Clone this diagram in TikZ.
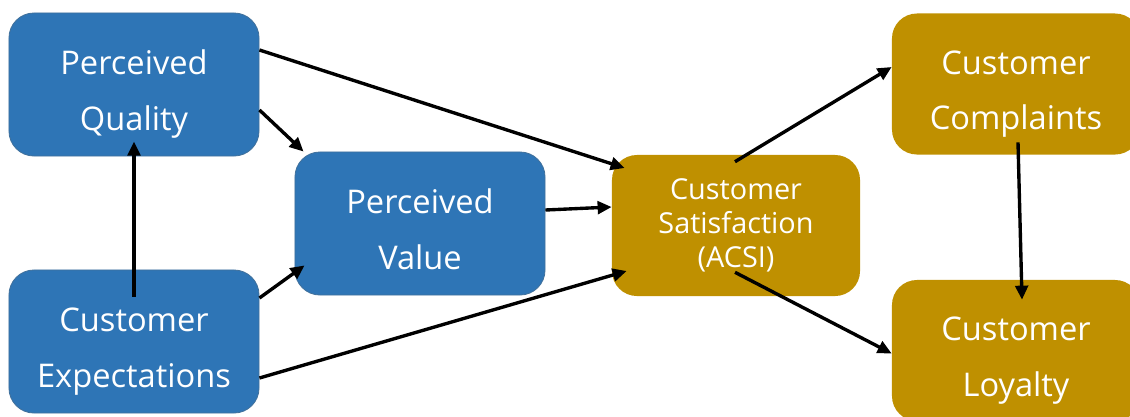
\documentclass[tikz,border=0pt]{standalone}
\usepackage{fontspec}
\setmainfont{Open Sans}
\usepackage{tikz}
\usetikzlibrary{arrows.meta,calc,positioning}
\definecolor{acsiblue}{HTML}{2E75B6}
\definecolor{acsiedge}{HTML}{41719C}
\definecolor{acsigold}{HTML}{BF9000}

\begin{document}
\begin{tikzpicture}[x=0.025cm, y=-0.025cm,
    driver/.style={rounded corners=25*0.025cm, fill=acsiblue, draw=acsiedge, line width=0.6pt,
      minimum width=6.25cm, minimum height=3.575cm, inner sep=0pt, align=center, text=white,
      font=\fontsize{23.2}{39.5}\selectfont, text height=65pt, text depth=-6pt},
    outcome/.style={rounded corners=25*0.025cm, fill=acsigold,
      minimum width=6.2cm, minimum height=3.525cm, inner sep=0pt, align=center, text=white,
      font=\fontsize{23.2}{39.5}\selectfont, text height=65pt, text depth=-6pt},
    link/.style={line width=2.4pt, -{Triangle[length=10pt,width=9pt]}}]
  \useasboundingbox (0,0) rectangle (1130,416);
  % drivers
  \node[driver] (pq) at (134,84.5) {Perceived\\Quality};
  \node[driver] (ce) at (134,341.5) {Customer\\Expectations};
  \node[driver] (pv) at (420,223.5) {Perceived\\Value};
  % index and outcomes
  \node[outcome, font=\fontsize{20.5}{24}\selectfont, text height=, text depth=] (cs) at (736,225.5) {Customer\\Satisfaction\\(ACSI)};
  \node[outcome] (cc) at (1016,84) {Customer\\Complaints};
  \node[outcome] (cl) at (1016,350.5) {Customer\\Loyalty};
  % links
  \draw[link] ($(ce.north)+(0,27)$) -- ($(pq.south)+(0,-15)$);
  \draw[link] ($(pq.east)+(0,-34.5)$) -- ($(cs.west)+(13,-57.5)$);
  \draw[link] ($(pq.east)+(0,25.5)$) -- ($(pv.north west)+(9,0)$);
  \draw[link] ($(pv.east)+(0,-13.5)$) -- ($(cs.west)+(0,-18.5)$);
  \draw[link] ($(ce.east)+(0,-43.5)$) -- ($(pv.south west)+(10,-30)$);
  \draw[link] ($(ce.east)+(0,36.5)$) -- ($(cs.west)+(15,45.5)$);
  \draw[link] ($(cs.north)+(-1,7)$) -- ($(cc.west)+(0,-17)$);
  \draw[link] ($(cs.south)+(-1,-24)$) -- ($(cl.west)+(0,3)$);
  \draw[link] ($(cc.south)+(2,-12.5)$) -- ($(cl.north)+(6,20)$);
\end{tikzpicture}
\end{document}
